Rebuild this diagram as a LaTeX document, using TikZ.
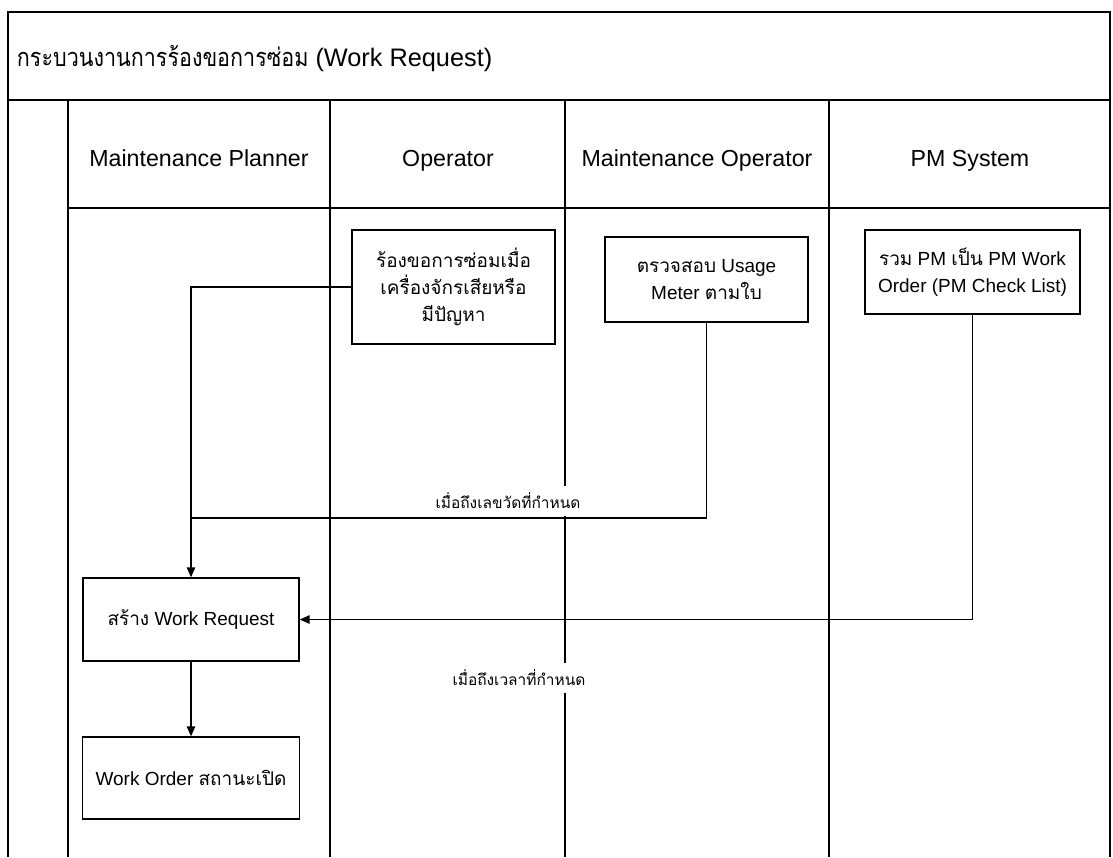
\documentclass[tikz,border=0pt]{standalone}
\usepackage{fontspec}
\setmainfont{Liberation Sans}
\newfontfamily\thaifont[Script=Thai]{Loma}
\newfontfamily\thaititlefont[Script=Thai, FakeStretch=0.85]{Loma}
\newcommand{\thai}[1]{{\thaifont #1}}
\newcommand{\pxu}{0.025cm}
\usetikzlibrary{arrows.meta, positioning, calc}

\begin{document}
\begin{tikzpicture}[x=0.025cm, y=-0.025cm,
  frame/.style={line width=1.3pt},
  lane/.style={line width=1.1pt},
  task/.style={draw, line width=1.1pt, align=center, inner sep=0pt,
    font=\fontsize{13.5}{19}\selectfont},
  lanehead/.style={anchor=base, font=\fontsize{16.5}{19}\selectfont},
  cond/.style={fill=white, inner xsep=1pt, inner ysep=5pt, font=\fontsize{11}{13}\selectfont},
  link/.style={line width=0.9pt},
  flow/.style={link, -{Triangle[length=7pt, width=6pt]}}]
  \useasboundingbox (0,0) rectangle (1113,857);

  % swimlane frame
  \draw[frame] (8,857) -- (8,12) -- (1110,12) -- (1110,857);
  \draw[frame] (8,100) -- (1110,100);
  \draw[lane] (68,208) -- (1110,208);
  \foreach \lx in {68,330,565,829}
    \draw[lane] (\lx,100) -- (\lx,857);

  \node[anchor=west, font=\fontsize{18}{22}\selectfont] (title) at (12,59)
    {{\thaititlefont กระบวนงานการร้องขอการซ่อม} (Work Request)};

  % lane headers
  \node[lanehead] (hplan) at (199,166) {Maintenance Planner};
  \node[lanehead] (hop)   at (448,166) {Operator};
  \node[lanehead] (hmop)  at (697,166) {Maintenance Operator};
  \node[lanehead] (hpm)   at (970,166) {PM System};

  % tasks
  \node[task, minimum width=203*\pxu, minimum height=114*\pxu] (request) at (453.5,287)
    {\thai{ร้องขอการซ่อมเมื่อ}\\\thai{เครื่องจักรเสียหรือ}\\\thai{มีปัญหา}};
  \node[task, minimum width=203*\pxu, minimum height=85*\pxu] (meter) at (706.5,279.5)
    {\thai{ตรวจสอบ} Usage\\Meter \thai{ตามใบ}};
  \node[task, minimum width=215*\pxu, minimum height=84*\pxu] (pmwo) at (972.5,272)
    {\thai{รวม} PM \thai{เป็น} PM Work\\Order (PM Check List)};
  \node[task, minimum width=216*\pxu, minimum height=83*\pxu] (create) at (191,619.5)
    {\thai{สร้าง} Work Request};
  \node[task, minimum width=217*\pxu, minimum height=82*\pxu] (order) at (191,778)
    {Work Order \thai{สถานะเปิด}};

  % connectors
  \coordinate (meterjoin) at (191,518);
  \draw[flow] (request.west) -| (create.north);
  \draw[link] (meter.south) |- (meterjoin);
  \draw[flow] (pmwo.south) |- (create.east);
  \draw[flow] (create.south) -- (order.north);

  \node[cond] (meterlbl) at (508,501) {\thai{เมื่อถึงเลขวัดที่กำหนด}};
  \node[cond] (timelbl)  at (519,678) {\thai{เมื่อถึงเวลาที่กำหนด}};
\end{tikzpicture}
\end{document}
